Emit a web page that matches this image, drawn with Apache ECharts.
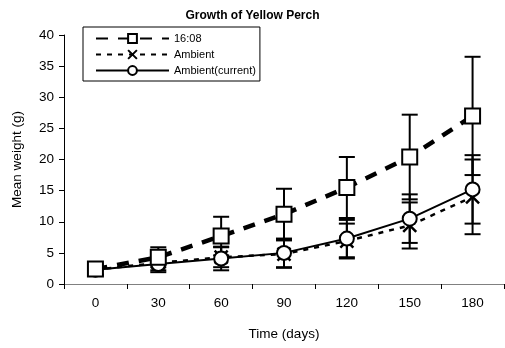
<!DOCTYPE html>
<html>
<head>
<meta charset="utf-8">
<script src="https://cdn.jsdelivr.net/npm/echarts@6/dist/echarts.min.js"></script>
<style>
  html, body { margin: 0; padding: 0; background: #fff; }
  #chart { width: 505px; height: 348px; }
</style>
</head>
<body>
<div id="chart"></div>
<script>
// Sampling days
var days = ['0', '30', '60', '90', '120', '150', '180'];

// Mean weight (g) and error (±) for each treatment
var perch1608 = [2.4, 4.3, 7.7, 11.2, 15.5, 20.4, 27.0];
var perch1608Err = [0.9, 1.6, 3.1, 4.1, 4.9, 6.8, 9.5];

var ambient = [2.3, 3.4, 4.3, 4.8, 6.9, 9.4, 14.0];
var ambientErr = [0.8, 1.2, 1.6, 2.2, 2.8, 3.7, 6.0];

var ambientCurrent = [2.3, 3.2, 4.1, 5.0, 7.3, 10.5, 15.2];
var ambientCurrentErr = [0.8, 1.3, 1.9, 2.3, 3.0, 3.9, 5.5];

var FONT = 'Liberation Sans, Arial, sans-serif';

function errData(vals, errs) {
  return vals.map(function (v, i) { return [i, v - errs[i], v + errs[i]]; });
}

// Vertical error bar with horizontal caps at both ends
function errorBarSeries(vals, errs) {
  return {
    type: 'custom',
    data: errData(vals, errs),
    z: 1,
    silent: true,
    renderItem: function (params, api) {
      var x = api.value(0);
      var lo = api.coord([x, api.value(1)]);
      var hi = api.coord([x, api.value(2)]);
      var half = 8;
      var style = { stroke: '#000', lineWidth: 2, fill: null };
      return {
        type: 'group',
        children: [
          { type: 'line', shape: { x1: lo[0], y1: lo[1], x2: hi[0], y2: hi[1] }, style: style },
          { type: 'line', shape: { x1: lo[0] - half, y1: lo[1], x2: lo[0] + half, y2: lo[1] }, style: style },
          { type: 'line', shape: { x1: hi[0] - half, y1: hi[1], x2: hi[0] + half, y2: hi[1] }, style: style }
        ]
      };
    }
  };
}

var chart = echarts.init(document.getElementById('chart'));

chart.setOption({
  animation: false,
  backgroundColor: '#fff',
  textStyle: { fontFamily: FONT },
  title: {
    text: 'Growth of Yellow Perch',
    left: 'center',
    top: 5,
    textStyle: { fontFamily: FONT, fontSize: 12, fontWeight: 'bold', color: '#000' }
  },
  legend: {
    data: ['16:08', 'Ambient', 'Ambient(current)'],
    orient: 'vertical',
    left: 83,
    top: 27,
    padding: [6, 4, 5, 12],
    itemGap: 5,
    itemWidth: 73,
    itemHeight: 11,
    borderColor: '#000',
    borderWidth: 1,
    backgroundColor: '#fff',
    textStyle: { fontFamily: FONT, fontSize: 11, color: '#000' }
  },
  grid: { left: 64, right: 1, top: 35, bottom: 64 },
  xAxis: {
    type: 'category',
    data: days,
    boundaryGap: true,
    name: 'Time (days)',
    nameLocation: 'middle',
    nameGap: 43,
    nameTextStyle: { fontFamily: FONT, fontSize: 13.5, color: '#000' },
    axisLine: { lineStyle: { color: '#808080', width: 1 } },
    axisTick: { show: true, inside: false, length: 5, lineStyle: { color: '#000' } },
    axisLabel: { margin: 12, fontFamily: FONT, fontSize: 13.5, color: '#000' },
    splitLine: { show: false }
  },
  yAxis: {
    type: 'value',
    min: 0,
    max: 40,
    interval: 5,
    name: 'Mean weight (g)',
    nameLocation: 'middle',
    nameGap: 40,
    nameTextStyle: { fontFamily: FONT, fontSize: 13.5, color: '#000' },
    axisLine: { show: true, lineStyle: { color: '#000', width: 1 } },
    axisTick: { show: true, inside: false, length: 5, lineStyle: { color: '#000' } },
    axisLabel: { margin: 10, fontFamily: FONT, fontSize: 13.5, color: '#000' },
    splitLine: { show: false }
  },
  series: [
    errorBarSeries(perch1608, perch1608Err),
    errorBarSeries(ambient, ambientErr),
    errorBarSeries(ambientCurrent, ambientCurrentErr),
    {
      name: 'Ambient',
      type: 'line',
      data: ambient,
      z: 3,
      symbol: 'path://M0,0L10,10M10,0L0,10',
      symbolSize: 13,
      itemStyle: { color: '#000', borderColor: '#000', borderWidth: 2.5 },
      lineStyle: { color: '#000', width: 2.5, type: [5, 6] }
    },
    {
      name: 'Ambient(current)',
      type: 'line',
      data: ambientCurrent,
      z: 4,
      symbol: 'emptyCircle',
      symbolSize: 14,
      itemStyle: { color: '#000', borderColor: '#000', borderWidth: 2 },
      lineStyle: { color: '#000', width: 2, type: 'solid' }
    },
    {
      name: '16:08',
      type: 'line',
      data: perch1608,
      z: 5,
      symbol: 'emptyRect',
      symbolSize: 15,
      itemStyle: { color: '#000', borderColor: '#000', borderWidth: 2 },
      lineStyle: { color: '#000', width: 4.5, type: [12, 10] }
    }
  ]
});
</script>
</body>
</html>
